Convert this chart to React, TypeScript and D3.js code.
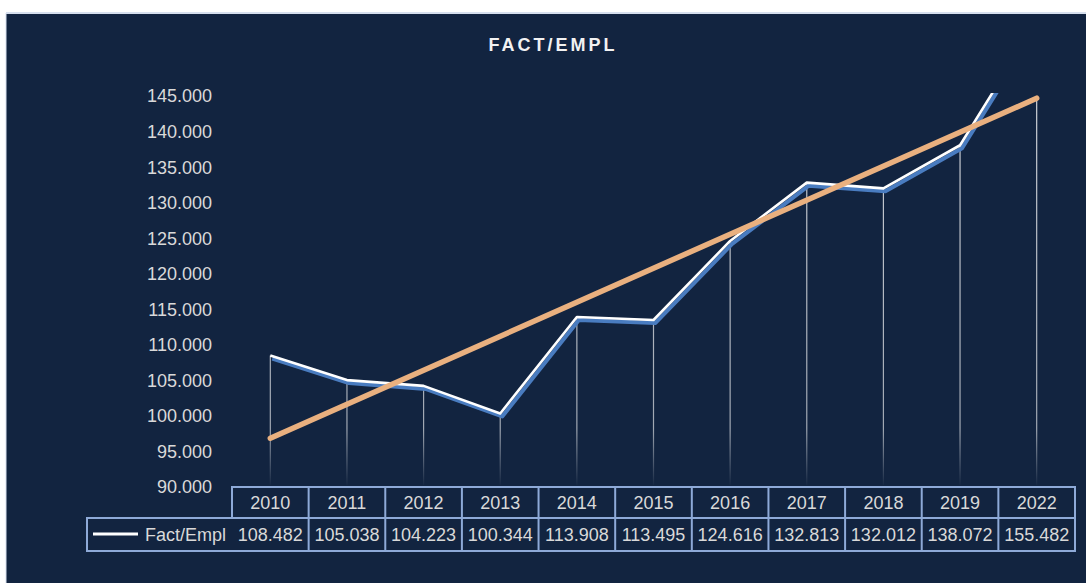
import React from "react";
import * as d3 from "d3";

const years = ["2010", "2011", "2012", "2013", "2014", "2015", "2016", "2017", "2018", "2019", "2022"];
const values = [108.482, 105.038, 104.223, 100.344, 113.908, 113.495, 124.616, 132.813, 132.012, 138.072, 155.482];
const yTicks = [90, 95, 100, 105, 110, 115, 120, 125, 130, 135, 140, 145];
const seriesName = "Fact/Empl";
const title = "FACT/EMPL";

const W = 1086;
const H = 583;
const BG = "#122440";
const TEXT = "#d9d9d9";
const GRID = "#8eaad8";
const FONT = "'Liberation Sans', Arial, sans-serif";

const plotLeft = 232;
const plotRight = 1075;
const plotTop = 96;
const plotBottom = 487;
const clipTop = 93;
const rowMid = 518;
const rowBottom = 551;
const legendLeft = 87;

const fmt = (v: number) => v.toFixed(3);

export default function App() {
  const x = d3.scaleBand<string>().domain(years).range([plotLeft, plotRight]);
  const y = d3.scaleLinear().domain([90, 145]).range([plotBottom, plotTop]);
  const cx = (yr: string) => (x(yr) as number) + x.bandwidth() / 2;

  // linear trend (least squares on index)
  const n = values.length;
  const idx = values.map((_, i) => i + 1);
  const mx = d3.mean(idx) as number;
  const my = d3.mean(values) as number;
  const slope =
    d3.sum(idx.map((xi, i) => (xi - mx) * (values[i] - my))) /
    d3.sum(idx.map((xi) => (xi - mx) * (xi - mx)));
  const icpt = my - slope * mx;
  const trend = idx.map((xi) => icpt + slope * xi);

  const pathD = d3
    .line<number>()
    .x((_, i) => cx(years[i]))
    .y((v) => y(v))(values) as string;

  const trendPts: [number, number][] = [
    [cx(years[0]), y(trend[0])],
    [cx(years[n - 1]), y(trend[n - 1])],
  ];
  const trendD = d3.line()(trendPts) as string;

  return (
    <svg width={W} height={H} style={{ position: "absolute", left: 0, top: 0, display: "block" }}>
      <defs>
        <clipPath id="plotClip">
          <rect x={plotLeft - 20} y={clipTop} width={plotRight - plotLeft + 40} height={plotBottom - clipTop} />
        </clipPath>
        <linearGradient id="dropGrad" gradientUnits="userSpaceOnUse" x1="0" y1={plotTop} x2="0" y2={plotBottom}>
          <stop offset="0%" stopColor="#ffffff" stopOpacity="0.8" />
          <stop offset="85%" stopColor="#ffffff" stopOpacity="0.6" />
          <stop offset="100%" stopColor="#ffffff" stopOpacity="0" />
        </linearGradient>
        <filter id="blur1" x="-5%" y="-5%" width="110%" height="110%">
          <feGaussianBlur stdDeviation="0.6" />
        </filter>
      </defs>
      <rect x={0} y={0} width={W} height={H} fill="#ffffff" />
      <rect x={6} y={13} width={W - 6} height={H - 13} fill={BG} />
      <line x1={6} y1={13} x2={W} y2={13} stroke="#d6dfee" strokeWidth={2} />
      <line x1={6} y1={13} x2={6} y2={H} stroke="#d6dfee" strokeWidth={1} />

      <text
        x={553}
        y={51}
        textAnchor="middle"
        fill="#f2f2f2"
        fontFamily={FONT}
        fontWeight="bold"
        fontSize={18}
        letterSpacing={3}
      >
        {title}
      </text>

      {yTicks.map((t) => (
        <text
          key={t}
          x={212}
          y={y(t)}
          dy="0.36em"
          textAnchor="end"
          fill={TEXT}
          fontFamily={FONT}
          fontSize={18}
        >
          {fmt(t)}
        </text>
      ))}

      <g clipPath="url(#plotClip)">
        {years.map((yr, i) => {
          const top = Math.max(clipTop + 3, y(values[i]));
          return (
            <line
              key={yr}
              x1={cx(yr)}
              x2={cx(yr)}
              y1={top}
              y2={plotBottom - 2}
              stroke="url(#dropGrad)"
              strokeWidth={1.2}
            />
          );
        })}
        <path
          d={pathD}
          transform="translate(2,3)"
          fill="none"
          stroke="#4a7cc0"
          strokeWidth={4}
          strokeLinejoin="round"
          filter="url(#blur1)"
        />
        <path d={pathD} fill="none" stroke="#ffffff" strokeWidth={2.6} strokeLinejoin="round" />
        <path d={trendD} fill="none" stroke="#e9b07f" strokeWidth={5.5} strokeLinecap="round" />
      </g>

      {/* data table */}
      <g fill="none" stroke={GRID} strokeWidth={2}>
        <path d={`M${plotLeft},${rowMid} V${plotBottom} H${plotRight} V${rowBottom} H${legendLeft} V${rowMid} H${plotRight}`} />
        {years.slice(1).map((yr) => (
          <line key={yr} x1={x(yr) as number} x2={x(yr) as number} y1={plotBottom} y2={rowBottom} />
        ))}
      </g>
      {years.map((yr, i) => (
        <g key={yr} fontFamily={FONT} fontSize={18} fill={TEXT} textAnchor="middle">
          <text x={cx(yr)} y={(plotBottom + rowMid) / 2} dy="0.36em">
            {yr}
          </text>
          <text x={cx(yr)} y={(rowMid + rowBottom) / 2} dy="0.36em">
            {fmt(values[i])}
          </text>
        </g>
      ))}
      <line x1={93} x2={138} y1={534} y2={534} stroke="#ffffff" strokeWidth={3} />
      <text
        x={226}
        y={(rowMid + rowBottom) / 2}
        dy="0.36em"
        textAnchor="end"
        fill={TEXT}
        fontFamily={FONT}
        fontSize={18}
      >
        {seriesName}
      </text>
    </svg>
  );
}
